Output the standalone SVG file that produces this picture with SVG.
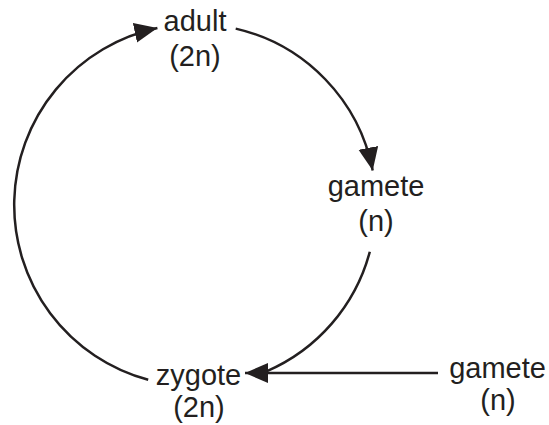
<svg xmlns="http://www.w3.org/2000/svg" width="549" height="425" viewBox="0 0 549 425">
<style>
text{font-family:"Liberation Sans",Arial,sans-serif;font-size:29px;fill:#231f20;text-anchor:middle}
.c{fill:none;stroke:#231f20;stroke-width:2.5}
</style>
<defs>
<marker id="ah" markerUnits="userSpaceOnUse" markerWidth="24" markerHeight="21" refX="23" refY="10" orient="auto" viewBox="0 0 24 21">
<path d="M0,0 L23,10 L0,20 Z" fill="#231f20"/>
</marker>
</defs>
<rect width="549" height="425" fill="#fff"/>
<g id="connectors">
<path class="c" d="M148.2,379.8 A181,181 0 0 1 157.4,28" marker-end="url(#ah)"/>
<path class="c" d="M235.7,28.6 A181,181 0 0 1 372.7,170.5" marker-end="url(#ah)"/>
<path class="c" d="M369.8,251.8 A181,181 0 0 1 266,371.6"/>
<path class="c" d="M438,373 L245,373" marker-end="url(#ah)"/>
</g>
<g id="adult"><text x="195" y="31">adult</text><text x="195" y="66">(2n)</text></g>
<g id="gamete1"><text x="376" y="196">gamete</text><text x="376" y="231">(n)</text></g>
<g id="zygote"><text x="198.5" y="385">zygote</text><text x="199" y="417">(2n)</text></g>
<g id="gamete2"><text x="497.5" y="378">gamete</text><text x="498" y="410">(n)</text></g>
</svg>
